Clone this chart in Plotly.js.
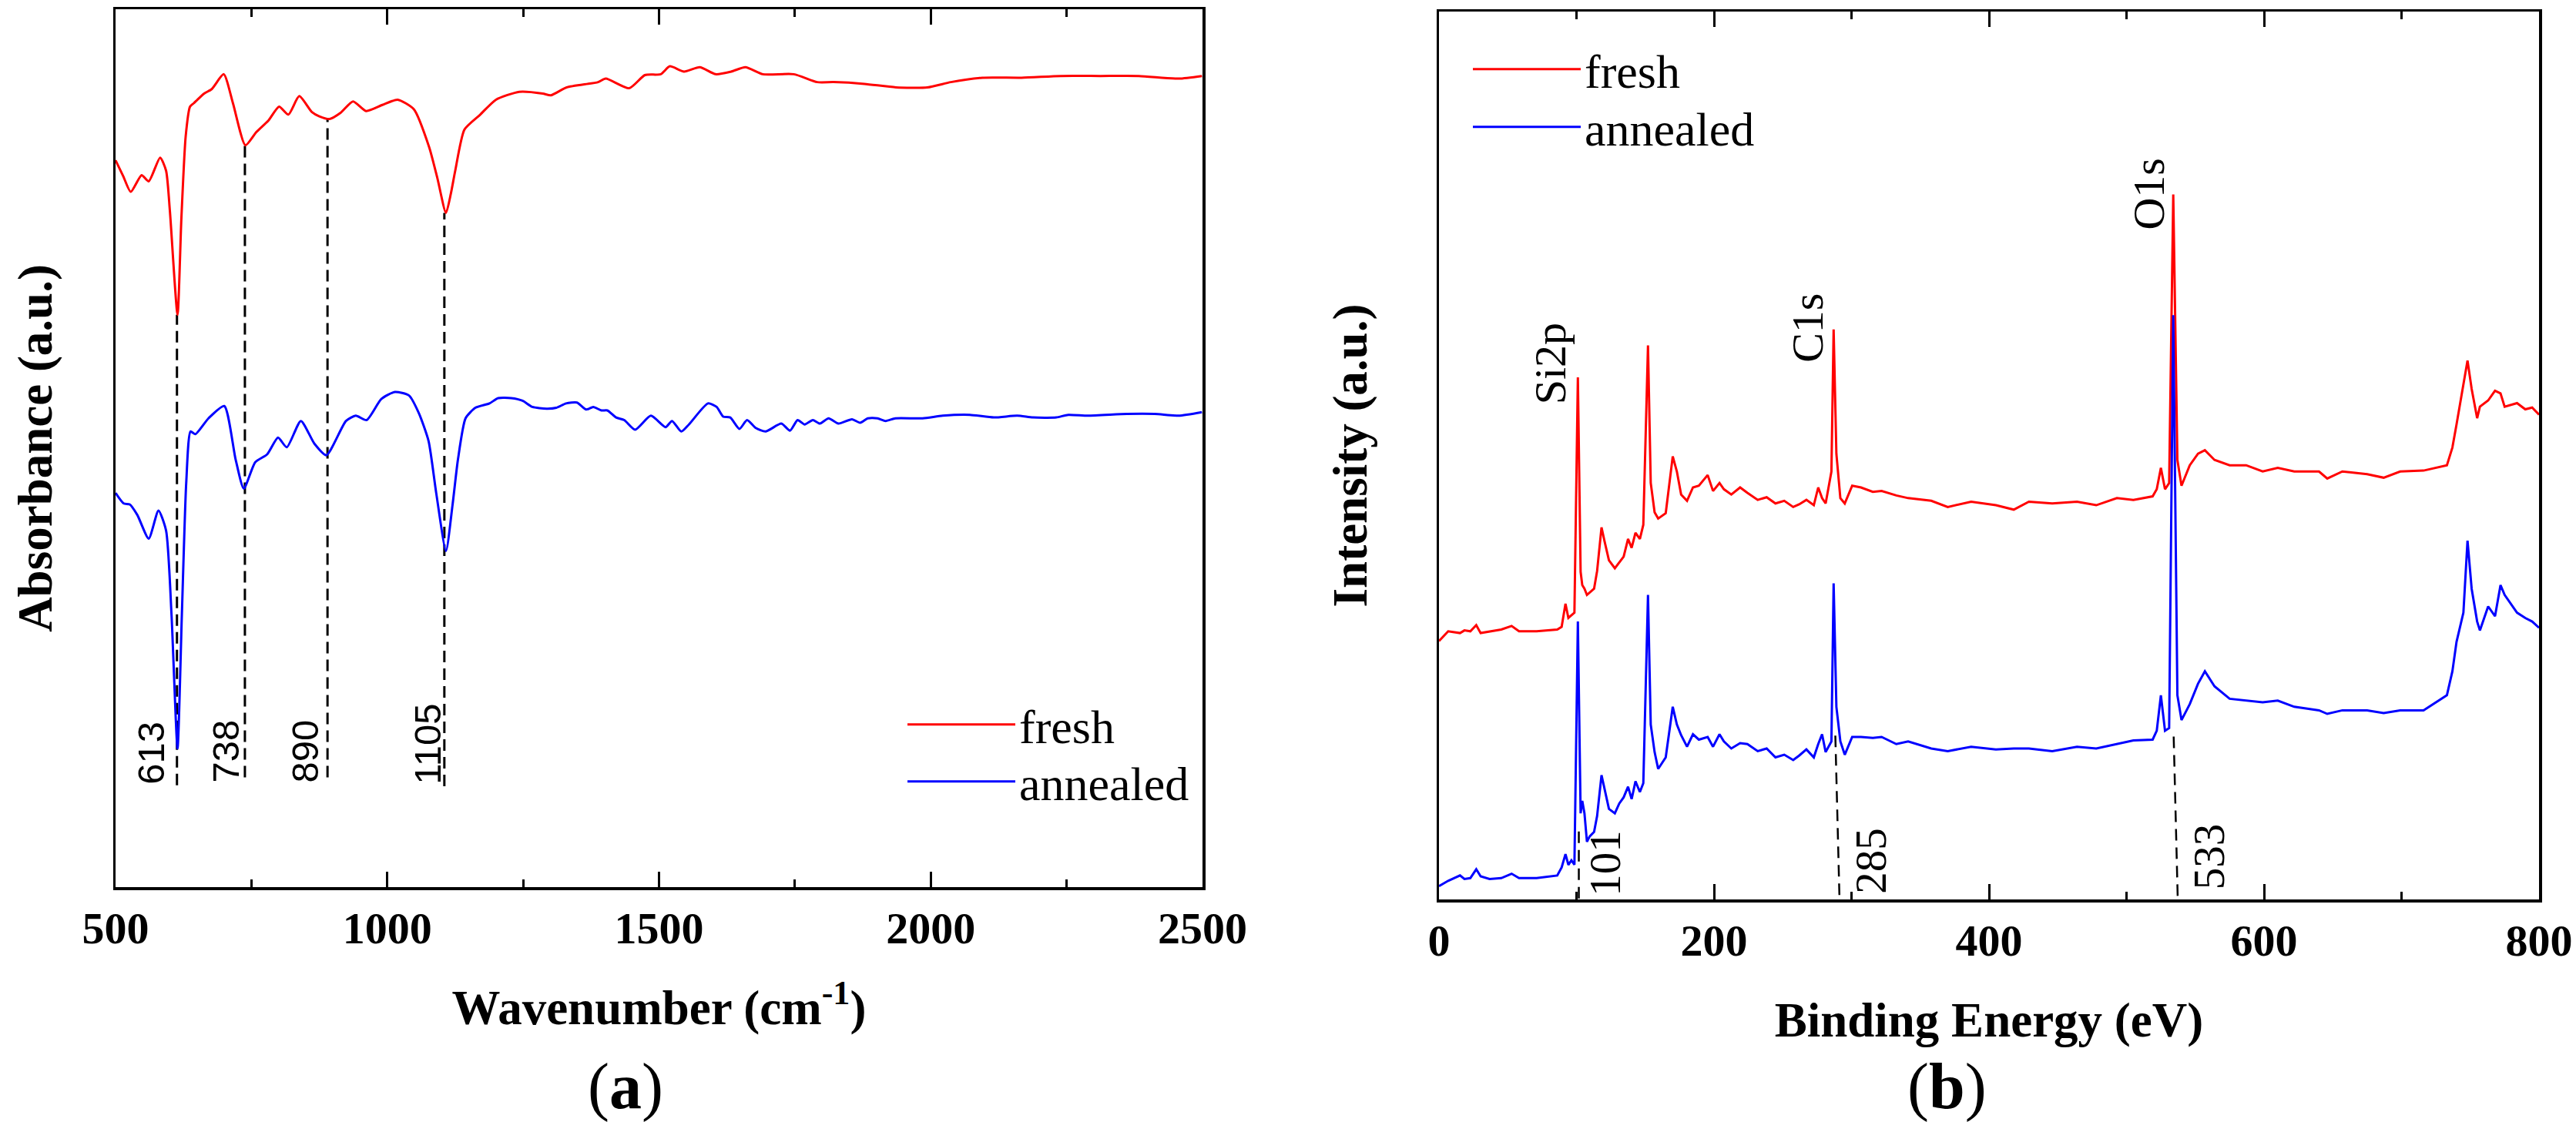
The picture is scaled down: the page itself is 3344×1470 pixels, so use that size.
<!DOCTYPE html>
<html>
<head>
<meta charset="utf-8">
<script src="https://cdn.plot.ly/plotly-3.0.1.min.js"></script>
<style>html,body{margin:0;padding:0;background:#fff;}#chart{width:3344px;height:1470px;}</style>
</head>
<body>
<div id="chart"></div>
<script>
// ---------- (a) FTIR ----------
const ftirWavenumberFresh = [500,514,528,548,561,582,593,600,614,621,629,637,644,663,677,699,716,739,759,781,801,818,838,861,875,894,914,937,961,991,1019,1049,1077,1092,1108,1117,1125,1142,1171,1200,1243,1286,1301,1330,1388,1402,1445,1474,1503,1520,1546,1575,1604,1633,1659,1691,1748,1791,1821,1878,1936,1994,2037,2095,2167,2239,2312,2383,2456,2499];
const ftirFresh = [82.8,81.0,79.2,81.1,80.4,83.1,81.6,77.0,65.2,76.0,85.5,88.9,89.3,90.4,90.9,92.6,89.3,84.5,86.0,87.3,88.9,88.0,90.1,88.3,87.8,87.5,88.2,89.5,88.4,89.1,89.7,88.6,84.3,80.8,76.8,79.0,81.6,86.3,88.0,89.7,90.6,90.4,90.2,91.1,91.7,92.1,91.0,92.5,92.6,93.5,92.9,93.4,92.6,92.9,93.4,92.6,92.6,91.7,91.7,91.5,91.1,91.1,91.7,92.2,92.2,92.4,92.4,92.4,92.1,92.4];
const ftirWavenumberAnnealed = [500,515,526,540,561,579,593,603,614,622,630,638,647,671,700,721,736,757,779,799,815,841,866,888,924,942,962,989,1014,1040,1058,1076,1090,1108,1120,1130,1144,1162,1188,1204,1228,1249,1267,1293,1311,1329,1349,1366,1379,1394,1405,1421,1436,1456,1485,1512,1524,1541,1555,1590,1606,1618,1631,1648,1662,1678,1696,1725,1741,1755,1768,1783,1796,1812,1830,1855,1870,1884,1902,1917,1935,1985,2022,2072,2116,2159,2188,2231,2253,2289,2361,2412,2456,2499];
const ftirAnnealed = [44.9,43.7,43.6,42.4,39.7,42.9,40.6,31.0,15.8,31.0,46.0,51.9,51.6,53.4,54.8,48.7,45.4,48.4,49.3,51.2,50.1,53.1,50.5,49.2,53.1,53.7,53.2,55.6,56.4,56.0,54.0,50.8,44.9,38.3,43.5,48.7,53.4,54.6,55.1,55.7,55.7,55.4,54.7,54.5,54.6,55.1,55.2,54.4,54.7,54.3,54.3,53.5,53.2,52.1,53.7,52.4,53.1,51.9,52.7,55.1,54.7,53.6,53.5,52.2,53.2,52.3,51.9,52.8,52.0,53.2,52.7,53.2,52.8,53.4,52.8,53.3,52.9,53.4,53.4,53.1,53.4,53.4,53.7,53.8,53.5,53.7,53.5,53.5,53.8,53.7,53.9,53.9,53.7,54.1];
const ftirPeaks = [613, 738, 890, 1105];
const ftirPeakLabels = ['613', '738', '890', '1105'];
const ftirLineTop = [65.2, 84.5, 87.5, 76.8];
const ftirLineBottom = [11.6, 12.5, 12.5, 11.5];
const ftirLabelX = [564, 703, 849, 1075];
const ftirLabelY = [15.3, 15.5, 15.5, 16.3];

// ---------- (b) XPS ----------
const xpsEnergy = [0,6.7,15.3,18.5,22.8,27.1,30.3,36.8,45.3,52.8,58.2,71,86,89.2,92,94.1,96.3,98.5,101,103,104.2,105.8,107.6,109.6,112.8,115,118.2,120.3,123.6,127.9,131.1,134.3,137.5,140.1,142.9,146.1,148.6,152,154,156.8,159.4,164.9,170,173,176.1,180.4,184.7,189,195.4,199.3,204,207.2,212.6,219,224.3,231.8,238.3,244.7,251.1,257.6,261.9,267.2,272.6,275.8,278.6,281.2,285.4,287,289,291.9,295.1,300.5,306.9,315.5,321.9,332.6,341.2,358,370,387,405,418,429,446,464,478,493,505,519,522,525,528,531,534,537,540,546,552,557,564,575,587,599,610,622,640,646,657,675,687,699,716,733,737,740,745,748,751,755,757,763,768,772,775,784,790,795,800];
const xpsFresh = [29.1,30.2,30.0,30.3,30.2,30.9,30.0,30.2,30.4,30.8,30.2,30.2,30.4,30.7,33.3,31.7,32.0,32.3,58.8,36.9,35.4,35.0,34.3,34.6,35.0,37.0,41.9,40.4,38.2,37.3,38.0,38.6,40.6,39.6,41.3,40.6,42.2,62.4,46.9,43.6,42.9,43.5,49.9,48.2,45.6,44.9,46.4,46.6,47.8,46.0,46.9,46.2,45.6,46.4,45.8,45.0,45.3,44.6,44.9,44.2,44.5,45.0,44.4,46.4,45.2,44.6,48.2,64.2,50.2,45.2,44.6,46.6,46.4,45.9,46.0,45.5,45.2,44.9,44.2,44.8,44.4,43.9,44.8,44.6,44.8,44.4,45.2,45.0,45.4,46.2,48.6,46.2,46.9,79.4,49.5,46.6,48.9,50.2,50.6,49.5,48.9,48.9,48.2,48.6,48.2,48.2,47.4,48.2,47.9,47.5,48.2,48.3,48.9,50.9,53.5,58.2,60.7,57.5,54.2,55.5,56.2,57.3,57.0,55.5,55.9,55.2,55.4,54.6];
const xpsAnnealed = [1.5,2.1,2.7,2.3,2.4,3.4,2.6,2.3,2.4,2.9,2.4,2.4,2.7,3.6,5.1,3.9,4.4,3.9,31.3,9.7,11.1,9.7,6.5,7.1,7.6,9.4,14.0,12.6,10.2,9.7,10.8,11.5,12.7,11.3,13.3,12.1,13.1,34.3,19.7,16.6,14.7,16.0,21.7,19.7,18.5,17.2,18.6,18.0,18.3,17.2,18.6,17.8,17.0,17.6,17.5,16.7,17.0,16.0,16.3,15.7,16.2,16.9,16.0,17.5,18.6,16.6,17.8,35.6,21.7,17.8,16.3,18.3,18.3,18.2,18.3,17.5,17.8,17.0,16.7,17.2,16.9,17.0,17.0,16.7,17.2,17.0,17.5,17.9,18.0,19.0,23.0,19.0,19.3,65.8,23.0,20.2,22.0,24.3,25.7,24.0,22.6,22.4,22.2,22.4,21.7,21.3,20.9,21.3,21.3,21.0,21.3,21.3,23.0,25.7,29.0,32.3,40.4,35.0,31.3,30.3,33.0,31.9,35.4,34.3,32.3,31.7,31.3,30.6,29.9];
const xpsPeakLabels = ['101', '285', '533'];
const xpsLineXTop = [101.7, 288.2, 534.2];
const xpsLineXBottom = [101.7, 291.2, 537.2];
const xpsLineTop = [8.2, 18.7, 19.0];
const xpsLineBottom = [0.1, 0.5, 0.4];
const xpsLabelX = [121, 314, 560];
const xpsLabelY = [4.1, 4.4, 4.8];
const xpsElements = ['Si2p', 'C1s', 'O1s'];
const xpsElementX = [81, 268, 516];
const xpsElementY = [60.3, 64.4, 79.4];

const seriesNames = ['fresh', 'annealed'];
const seriesColors = ['#ff0000', '#0000ff'];

// ---------- build ----------
const SERIF = 'Liberation Serif, Times New Roman, serif';
const SANS = 'Liberation Sans, Arial, sans-serif';

const traces = [
  {x: ftirWavenumberFresh, y: ftirFresh, name: seriesNames[0], xaxis: 'x', yaxis: 'y', legend: 'legend',
   mode: 'lines', line: {color: seriesColors[0], width: 3, shape: 'spline', smoothing: 0.6}},
  {x: ftirWavenumberAnnealed, y: ftirAnnealed, name: seriesNames[1], xaxis: 'x', yaxis: 'y', legend: 'legend3',
   mode: 'lines', line: {color: seriesColors[1], width: 3, shape: 'spline', smoothing: 0.6}},
  {x: xpsEnergy, y: xpsFresh, name: seriesNames[0], xaxis: 'x2', yaxis: 'y2', legend: 'legend2',
   mode: 'lines', line: {color: seriesColors[0], width: 3}},
  {x: xpsEnergy, y: xpsAnnealed, name: seriesNames[1], xaxis: 'x2', yaxis: 'y2', legend: 'legend4',
   mode: 'lines', line: {color: seriesColors[1], width: 3}}
];

const shapes = [];
const annotations = [];
const dashStyle = {color: '#000', width: 3, dash: '15px,8px'};
ftirPeaks.forEach((p, i) => {
  shapes.push({type: 'line', xref: 'x', yref: 'y', x0: p, x1: p, y0: ftirLineBottom[i], y1: ftirLineTop[i], line: dashStyle, layer: 'below'});
  annotations.push({xref: 'x', yref: 'y', x: ftirLabelX[i], y: ftirLabelY[i], text: ftirPeakLabels[i], textangle: -90,
    showarrow: false, xanchor: 'center', yanchor: 'middle', font: {family: SANS, size: 49, color: '#000'}});
});
xpsPeakLabels.forEach((t, i) => {
  shapes.push({type: 'line', xref: 'x2', yref: 'y2', x0: xpsLineXBottom[i], x1: xpsLineXTop[i], y0: xpsLineBottom[i], y1: xpsLineTop[i],
    line: {color: '#000', width: 2.5, dash: '15px,9px'}, layer: 'below'});
  annotations.push({xref: 'x2', yref: 'y2', x: xpsLabelX[i], y: xpsLabelY[i], text: t, textangle: -90,
    showarrow: false, xanchor: 'center', yanchor: 'middle', font: {family: SERIF, size: 57, color: '#000'}});
});
xpsElements.forEach((t, i) => {
  annotations.push({xref: 'x2', yref: 'y2', x: xpsElementX[i], y: xpsElementY[i], text: t, textangle: -90,
    showarrow: false, xanchor: 'center', yanchor: 'middle', font: {family: SERIF, size: 58, color: '#000'}});
});
annotations.push({xref: 'paper', yref: 'paper', x: 812 / 3344, y: 1 - 1411 / 1470, text: '(<b>a</b>)', showarrow: false,
  xanchor: 'center', yanchor: 'middle', font: {family: SERIF, size: 84, color: '#000'}});
annotations.push({xref: 'paper', yref: 'paper', x: 2527 / 3344, y: 1 - 1411 / 1470, text: '(<b>b</b>)', showarrow: false,
  xanchor: 'center', yanchor: 'middle', font: {family: SERIF, size: 84, color: '#000'}});

const tickFont = {family: SERIF, size: 58, color: '#000', weight: 700};
const titleFont = {family: SERIF, size: 63, color: '#000', weight: 700};

function xAxis(domain, range, dtick, minorDtick, title, anchor) {
  return {
    domain: domain, range: range, anchor: anchor, tick0: range[0], dtick: dtick,
    ticks: 'inside', ticklen: 20, tickwidth: 3, tickcolor: '#000',
    minor: {ticks: 'inside', ticklen: 10, tickwidth: 3, tickcolor: '#000', dtick: minorDtick, tick0: range[0]},
    showline: true, linewidth: 3.5, linecolor: '#000', mirror: 'ticks',
    showgrid: false, zeroline: false, tickfont: tickFont,
    ticklabelstandoff: 0,
    title: {text: title, font: titleFont, standoff: 50}
  };
}
function yAxis(domain, title, anchor, standoff) {
  return {
    domain: domain, range: [0, 100], anchor: anchor,
    showline: true, linewidth: 3.5, linecolor: '#000', mirror: true,
    ticks: '', showticklabels: false, showgrid: false, zeroline: false,
    title: {text: title, font: titleFont, standoff: standoff}
  };
}
function legendAt(xpx, ypx) {
  return {x: xpx / 3344, y: 1 - ypx / 1470, xanchor: 'left', yanchor: 'top', bgcolor: 'rgba(0,0,0,0)',
    font: {family: SERIF, size: 62, color: '#000'}, itemwidth: 140};
}

const layout = {
  width: 3344, height: 1470,
  margin: {l: 0, r: 0, t: 0, b: 0},
  paper_bgcolor: '#fff', plot_bgcolor: '#fff',
  xaxis: xAxis([150 / 3344, 1561 / 3344], [500, 2500], 500, 250, 'Wavenumber (cm<sup>-1</sup>)', 'y'),
  yaxis: yAxis([1 - 1152 / 1470, 1 - 12 / 1470], 'Absorbance (a.u.)', 'x', 59),
  xaxis2: xAxis([1868 / 3344, 3296 / 3344], [0, 800], 200, 100, 'Binding Energy (eV)', 'y2'),
  yaxis2: yAxis([1 - 1168 / 1470, 1 - 15 / 1470], 'Intensity (a.u.)', 'x2', 70),
  legend: legendAt(1173, 894),
  legend3: legendAt(1173, 968),
  legend2: legendAt(1907, 43),
  legend4: legendAt(1907, 118),
  shapes: shapes,
  annotations: annotations,
  showlegend: true
};

Plotly.newPlot('chart', traces, layout, {staticPlot: true, displayModeBar: false});
</script>
</body>
</html>
